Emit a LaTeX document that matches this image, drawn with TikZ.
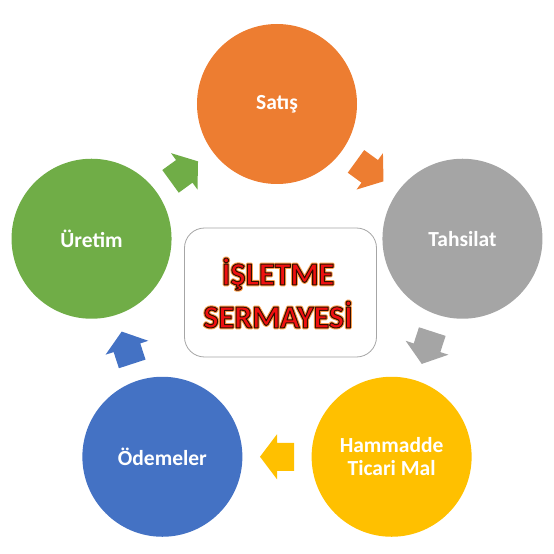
\documentclass[tikz,border=0pt]{standalone}
\usepackage{fontspec}
\setmainfont{Carlito}
\usepackage{tikz}
\usetikzlibrary{calc}
\definecolor{satis}{HTML}{ED7D31}
\definecolor{tahsil}{HTML}{A5A5A5}
\definecolor{hammadde}{HTML}{FFC000}
\definecolor{odeme}{HTML}{4472C4}
\definecolor{uretim}{HTML}{70AD47}
\definecolor{titlered}{HTML}{F01010}
\newcommand{\outlined}[1]{\rlap{\special{pdf:literal direct 1 Tr 1 j 3 w 0.98 0.62 0.3 RG}#1\special{pdf:literal direct 0 Tr}}\special{pdf:literal direct 2 Tr 1 w 0.2 0.06 0 RG}#1\special{pdf:literal direct 0 Tr 0 j}}
\tikzset{
	stage/.style={circle,minimum size=160pt,inner sep=0pt,text=white,align=center,font=\bfseries\fontsize{21.5}{23}\selectfont},
	cyclearrow/.pic={\fill (-17,-14) -- (0,-14) -- (0,-22.5) -- (17,0) -- (0,22.5) -- (0,14) -- (-17,14) -- cycle;}
}
\begin{document}
\begin{tikzpicture}[x=1pt,y=1pt]
	 	\useasboundingbox (-277,-255) rectangle (277,299);
	 	\node[stage,fill=satis] (s) at (90:195) {Satış};
	 	\node[stage,fill=tahsil] (t) at (18:195) {Tahsilat};
	 	\node[stage,fill=hammadde] (h) at (-54:195) {Hammadde\\Ticari Mal};
	 	\node[stage,fill=odeme] (o) at (-126:195) {Ödemeler};
	 	\node[stage,fill=uretim] (u) at (162:195) {Üretim};
	 	\node[draw=gray!70,fill=white,rounded corners=20pt,minimum width=192pt,minimum height=129pt,line width=0.8pt] (box) at (3.5,6.5) {};
	 	\node[text=titlered,align=center,font=\bfseries\fontsize{32}{43}\selectfont] (title) at (1,6) {\outlined{İŞLETME}\\\outlined{SERMAYESİ}};
	 	\pic[satis,rotate=-36] at ($(s)!0.5!(t)$) {cyclearrow};
	 	\pic[tahsil,rotate=-108] at ($(t)!0.5!(h)$) {cyclearrow};
	 	\pic[hammadde,rotate=180] at ($(h)!0.5!(o)$) {cyclearrow};
	 	\pic[odeme,rotate=108] at ($(o)!0.5!(u)$) {cyclearrow};
	 	\pic[uretim,rotate=36] at ($(u)!0.5!(s)$) {cyclearrow};
	 	\end{tikzpicture}
\end{document}
